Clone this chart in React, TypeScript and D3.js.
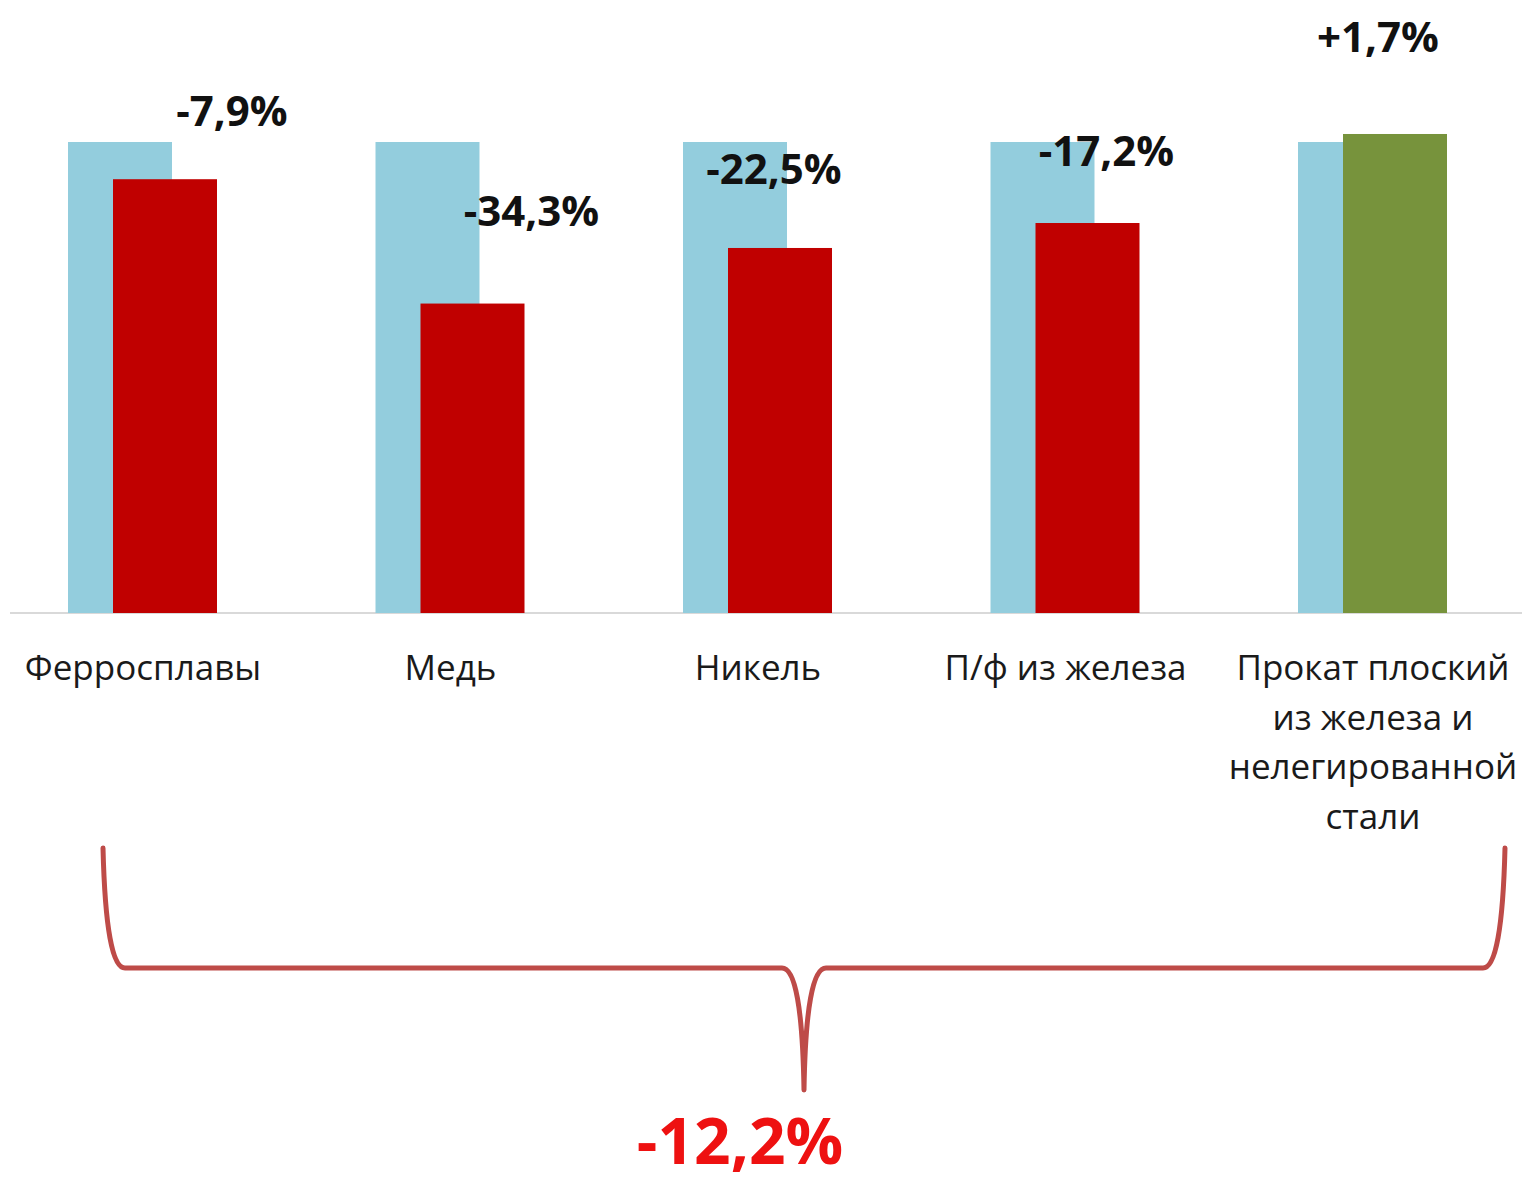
import { path as d3path, scaleBand, scaleLinear } from "d3";

const categories = [
  ["Ферросплавы"],
  ["Медь"],
  ["Никель"],
  ["П/ф из железа"],
  ["Прокат плоский", "из железа и", "нелегированной", "стали"],
];
const baseValues = [100, 100, 100, 100, 100];
const currentValues = [92.1, 65.7, 77.5, 82.8, 101.7];
const changeLabels = ["-7,9%", "-34,3%", "-22,5%", "-17,2%", "+1,7%"];
const totalLabel = "-12,2%";

// manual label placement (the original is hand-placed)
const labelDx = [67, 59, -6, 19, -17];
const labelDy = [-70, -94, -80, -74, -98];

const width = 1522;
const height = 1184;
const baseline = 613;
const barWidth = 104;
const font = "'Open Sans', 'Noto Sans', sans-serif";

function App() {
  const keys = categories.map((c) => c.join(" "));
  const x = scaleBand<string>().domain(keys).range([-10.75, 1526.75]).padding(0);
  const y = scaleLinear().domain([0, 100]).range([baseline, 142]);
  const center = (i: number) => (x(keys[i]) ?? 0) + x.bandwidth() / 2;

  const braceTop = 848;
  const braceMid = 968;
  const braceTip = 1090;
  const left = center(0) - 40;
  const right = center(keys.length - 1) + 132;
  const mid = (left + right) / 2;
  const p = d3path();
  p.moveTo(left, braceTop);
  p.quadraticCurveTo(left + 3, braceMid, left + 22, braceMid);
  p.lineTo(mid - 22, braceMid);
  p.quadraticCurveTo(mid - 2, braceMid, mid, braceTip);
  p.moveTo(right, braceTop);
  p.quadraticCurveTo(right - 3, braceMid, right - 22, braceMid);
  p.lineTo(mid + 22, braceMid);
  p.quadraticCurveTo(mid + 2, braceMid, mid, braceTip);

  return (
    <div style={{ position: "absolute", left: 0, top: 0 }}>
      <svg width={width} height={height} style={{ display: "block", background: "#fff" }}>
        <line x1={10} x2={width} y1={baseline} y2={baseline} stroke="#d9d9d9" strokeWidth={2} />
        {keys.map((k, i) => {
          const c = center(i);
          const up = currentValues[i] >= baseValues[i];
          return (
            <g key={k}>
              <rect
                x={c - 75}
                y={y(baseValues[i])}
                width={barWidth}
                height={baseline - y(baseValues[i])}
                fill="#93cddd"
              />
              <rect
                x={c - 30}
                y={y(currentValues[i])}
                width={barWidth}
                height={baseline - y(currentValues[i])}
                fill={up ? "#77933c" : "#c00000"}
              />
              <text
                x={c + 22 + labelDx[i]}
                y={y(currentValues[i]) + labelDy[i]}
                textAnchor="middle"
                dominantBaseline="central"
                fontFamily={font}
                fontWeight={700}
                fontSize={42}
                fill="#111"
              >
                {changeLabels[i]}
              </text>
              <text
                x={c}
                y={666}
                textAnchor="middle"
                dominantBaseline="central"
                fontFamily={font}
                fontSize={35}
                fill="#1a1a1a"
              >
                {categories[i].map((line, j) => (
                  <tspan key={j} x={c} dy={j === 0 ? 0 : 49.5}>
                    {line}
                  </tspan>
                ))}
              </text>
            </g>
          );
        })}
        <path d={p.toString()} fill="none" stroke="#be4b48" strokeWidth={5} strokeLinecap="round" />
        <text
          x={740}
          y={1139}
          textAnchor="middle"
          dominantBaseline="central"
          fontFamily={font}
          fontWeight={700}
          fontSize={64}
          fill="#ee1111"
        >
          {totalLabel}
        </text>
      </svg>
    </div>
  );
}

export default App;
